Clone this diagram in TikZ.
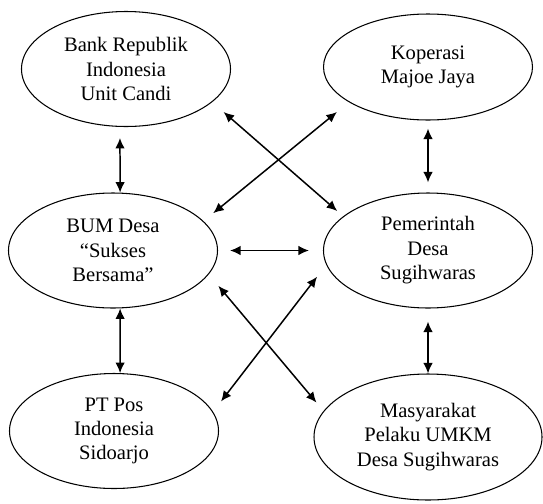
\documentclass[tikz,border=0pt]{standalone}
\usepackage{fontspec}
\setmainfont{Liberation Serif}
\usetikzlibrary{shapes.geometric, arrows.meta}

\begin{document}
\begin{tikzpicture}[
  every node/.style={draw, ellipse, inner sep=0pt, minimum width=4.18cm, minimum height=2.3cm, align=center, font=\fontsize{11.7pt}{13.9pt}\selectfont, line width=0.6pt},
  link/.style={{Latex[length=2.1mm,width=1.9mm]}-{Latex[length=2.1mm,width=1.9mm]}, line width=0.85pt}
]
\useasboundingbox (0,0) rectangle (10.86,10.06);

% Top row
\node (bank) at (2.52,8.68) {Bank Republik\\Indonesia\\Unit Candi};
\node[minimum height=2.12cm] (kop) at (8.56,8.72) {Koperasi\\Majoe Jaya};

% Middle row
\node (bum) at (2.26,5.05) {BUM Desa\\“Sukses\\Bersama”};
\node (pem) at (8.56,5.05) {Pemerintah\\Desa\\Sugihwaras};

% Bottom row
\node (pos) at (2.28,1.44) {PT Pos\\Indonesia\\Sidoarjo};
\node[minimum width=4.56cm, minimum height=2.52cm] (umkm) at (8.56,1.32) {Masyarakat\\Pelaku UMKM\\Desa Sugihwaras};

% Vertical links
\draw[link, shorten <=2.2mm] (bank.264) -- (bum.83);
\draw[link] (bum.277) -- (pos.84);
\draw[link, shorten <=1.6mm, shorten >=2mm] (kop.south) -- (pem.north);
\draw[link, shorten <=2.6mm] (pem.south) -- (umkm.north);

% Horizontal link
\draw[link, shorten <=2.4mm, shorten >=2.8mm] (bum.east) -- (pem.west);

% Crossing links
\draw[link, shorten <=3mm, shorten >=1.6mm] (bank.339) -- (pem.158);
\draw[link, shorten <=3.1mm, shorten >=2.5mm] (kop.204) -- (bum.18);
\draw[link, shorten <=3mm, shorten >=2.2mm] (bum.346) -- (umkm.166);
\draw[link, shorten <=2.6mm, shorten >=3mm] (pos.11) -- (pem.188);

\end{tikzpicture}
\end{document}
